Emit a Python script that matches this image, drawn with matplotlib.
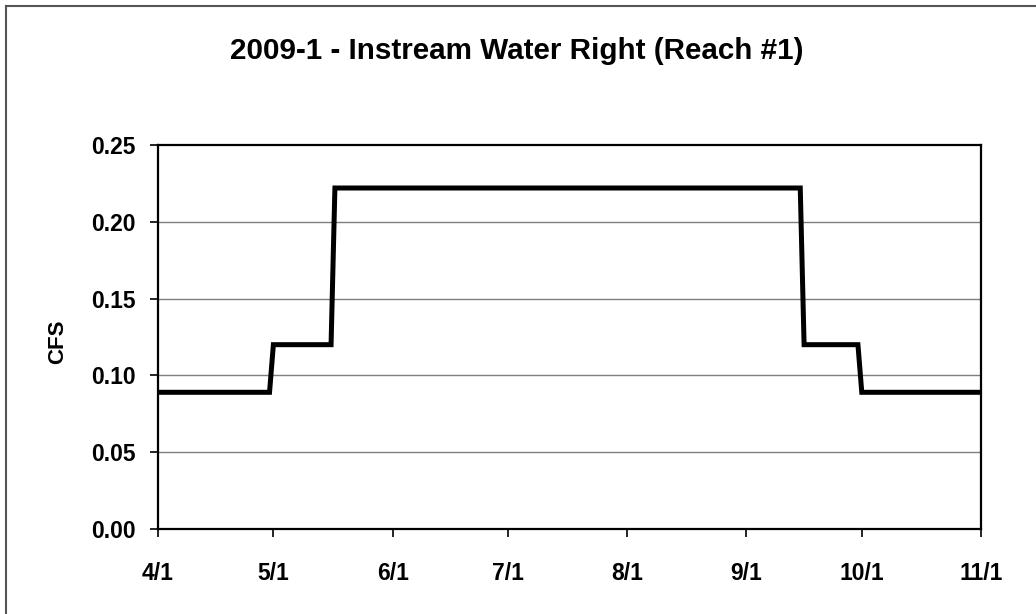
import matplotlib
matplotlib.use("Agg")
import matplotlib.pyplot as plt
from matplotlib.lines import Line2D
import datetime as dt

# ---- data ----
step_dates = ["2009-04-01", "2009-04-30", "2009-05-01", "2009-05-16", "2009-05-17",
              "2009-09-15", "2009-09-16", "2009-09-30", "2009-10-01", "2009-11-01"]
cfs_values = [0.089, 0.089, 0.12, 0.12, 0.222, 0.222, 0.12, 0.12, 0.089, 0.089]
tick_dates = ["2009-04-01", "2009-05-01", "2009-06-01", "2009-07-01",
              "2009-08-01", "2009-09-01", "2009-10-01", "2009-11-01"]
tick_labels = ["4/1", "5/1", "6/1", "7/1", "8/1", "9/1", "10/1", "11/1"]
y_ticks = [0.00, 0.05, 0.10, 0.15, 0.20, 0.25]
title = "2009-1 - Instream Water Right (Reach #1)"
y_label = "CFS"

plt.rcParams["font.family"] = ["Liberation Sans", "DejaVu Sans"]

to_dt = lambda s: dt.datetime.strptime(s, "%Y-%m-%d")
x = [to_dt(s) for s in step_dates]
xt = [to_dt(s) for s in tick_dates]

fig = plt.figure(figsize=(10.36, 6.14), dpi=100)
fig.patch.set_facecolor("white")
ax = fig.add_axes([158/1036, 1-529/614, 823/1036, 384/614])

# gridlines
for v in y_ticks[1:-1]:
    ax.axhline(v, color="#7f7f7f", lw=1.0, zorder=1)

ax.plot(x, cfs_values, color="black", lw=3.6, solid_joinstyle="miter", zorder=3)

ax.set_xlim(xt[0], xt[-1])
ax.set_ylim(0, 0.25)
ax.set_xticks(xt)
ax.set_xticklabels(tick_labels)
ax.set_yticks(y_ticks)
ax.set_yticklabels([f"{v:.2f}" for v in y_ticks])

for sp in ax.spines.values():
    sp.set_linewidth(1.6)
    sp.set_color("black")

ax.tick_params(axis="both", direction="out", length=6, width=1.2, color="black",
               labelsize=16.5)
ax.tick_params(axis="x", pad=18)
ax.tick_params(axis="y", pad=10)
for lab in ax.get_xticklabels() + ax.get_yticklabels():
    lab.set_fontweight("bold")

ax.set_ylabel(y_label, fontsize=16, fontweight="bold")
ax.yaxis.set_label_coords(-(158-68)/823, (529-342)/384)

fig.text(517/1036, 1-51/614, title, ha="center", va="center",
         fontsize=21.3, fontweight="bold")

# outer chart border (left and top edges visible)
fig.add_artist(Line2D([6/1036, 6/1036], [0, 1-6/614], color="#555555", lw=1.5,
                      transform=fig.transFigure))
fig.add_artist(Line2D([6/1036, 1], [1-6/614, 1-6/614], color="#555555", lw=1.5,
                      transform=fig.transFigure))

fig.savefig("out.png", dpi=100, facecolor="white")
